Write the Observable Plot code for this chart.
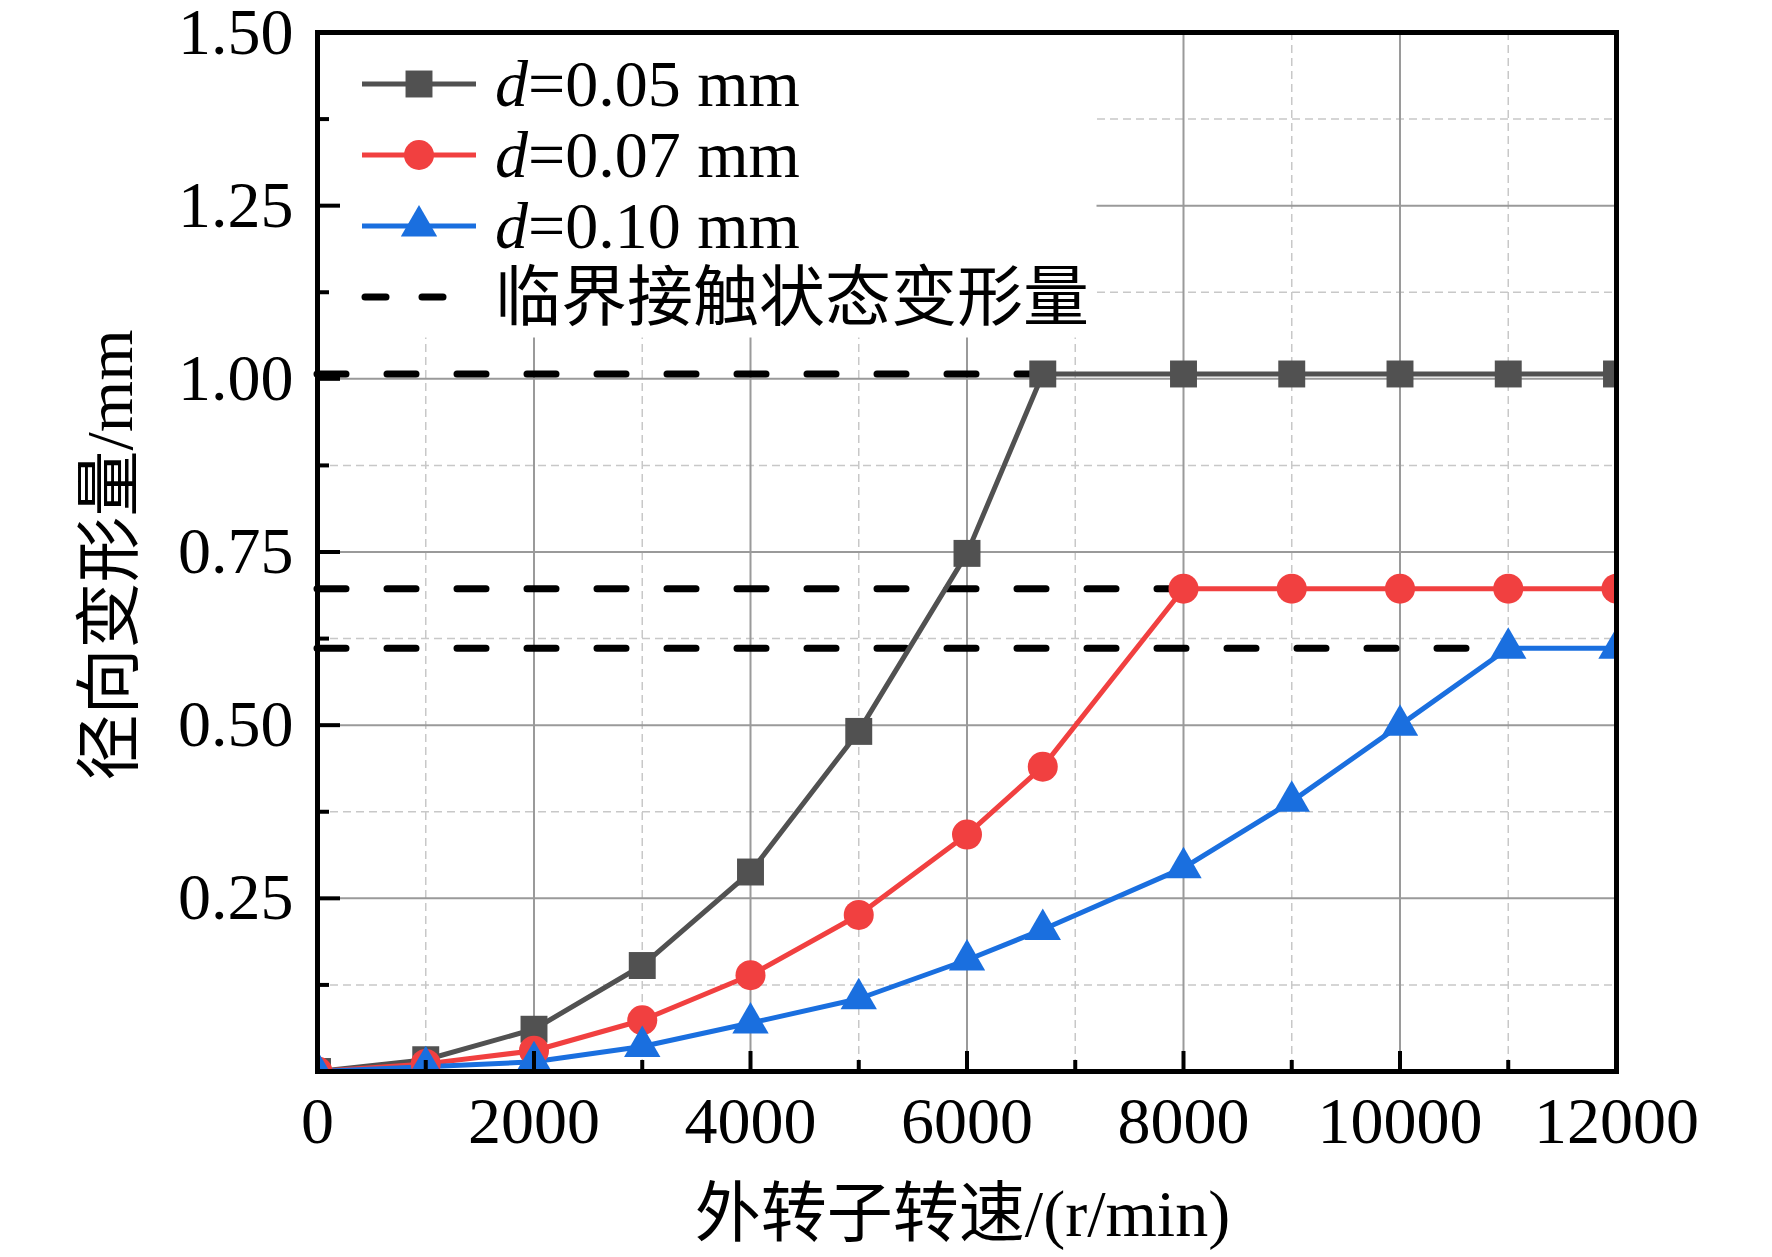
<!DOCTYPE html>
<html><head><meta charset="utf-8">
<script src="https://cdn.jsdelivr.net/npm/d3@7"></script>
<script src="https://cdn.jsdelivr.net/npm/@observablehq/plot@0.6"></script>
<style>
html,body{margin:0;padding:0;background:#fff;}
svg{display:block;}
</style>
</head><body><div id="chart"></div>
<script>
// ---- data ----
const speeds = [0, 1000, 2000, 3000, 4000, 5000, 6000, 6700, 8000, 9000, 10000, 11000, 12000];
const d005 = [0, 0.017, 0.061, 0.153, 0.288, 0.491, 0.748, 1.007, 1.007, 1.007, 1.007, 1.007, 1.007];
const d007 = [0, 0.011, 0.030, 0.074, 0.139, 0.226, 0.342, 0.440, 0.697, 0.697, 0.697, 0.697, 0.697];
const d010 = [0, 0.007, 0.014, 0.036, 0.070, 0.105, 0.161, 0.205, 0.294, 0.390, 0.500, 0.611, 0.611];
const seriesKeys = ["0.05", "0.07", "0.10"];
const seriesColors = ["#515151", "#F14040", "#1A6FDF"];
const seriesSymbols = ["square", "circle", "triangle"];
const critValues = [1.007, 0.697, 0.611];
const critEnds = [6700, 8000, 11000];
const critLabel = "临界接触状态变形量";
const xTicks = [0, 2000, 4000, 6000, 8000, 10000, 12000];
const xMinor = [1000, 3000, 5000, 7000, 9000, 11000];
const yTicks = [0.25, 0.5, 0.75, 1.0, 1.25, 1.5];
const yMinor = [0.125, 0.375, 0.625, 0.875, 1.125, 1.375];
const xTitle = "外转子转速/(r/min)";
const yTitle = "径向变形量/mm";

// ---- build table ----
const seriesValues = [d005, d007, d010];
const rows = [];
seriesKeys.forEach((k, si) => speeds.forEach((s, i) => rows.push({speed: s, value: seriesValues[si][i], key: k})));
const crit = critValues.map((v, i) => ({y: v, x2: critEnds[i]}));

const W = 1772, H = 1257;
const mL = 317, mR = 156, mT = 32, mB = 186;
const pw = W - mL - mR, ph = H - mT - mB;
const FONT = "'Liberation Serif', 'Times New Roman', 'Noto Sans CJK SC', serif";
const colorOf = k => seriesColors[seriesKeys.indexOf(k)];
const symR = [15.2, 15, 13.5];

const marks = [
  Plot.gridX(xMinor, {stroke: "#c8c8c8", strokeOpacity: 1, strokeWidth: 1.5, strokeDasharray: "8,5"}),
  Plot.gridY(yMinor, {stroke: "#c8c8c8", strokeOpacity: 1, strokeWidth: 1.5, strokeDasharray: "8,5"}),
  Plot.gridX(xTicks, {stroke: "#9a9a9a", strokeOpacity: 1, strokeWidth: 2}),
  Plot.gridY(yTicks, {stroke: "#9a9a9a", strokeOpacity: 1, strokeWidth: 2}),
  // legend background
  Plot.frame({fill: "white", stroke: null, insetRight: 520, insetBottom: 734}),
  Plot.ruleY(crit, {y: "y", x1: 0, x2: "x2", stroke: "black", strokeWidth: 7, strokeDasharray: "29,41", strokeLinecap: "round"}),
  Plot.line(rows, {x: "speed", y: "value", z: "key", stroke: d => colorOf(d.key), strokeWidth: 5, clip: true}),
];
seriesKeys.forEach((k, si) => {
  marks.push(Plot.dot(rows.filter(r => r.key === k), {
    x: "speed", y: "value", symbol: () => seriesSymbols[si],
    r: symR[si], fill: seriesColors[si], stroke: null, clip: true
  }));
});
marks.push(
  Plot.ruleX(xTicks, {stroke: "black", strokeWidth: 4, insetTop: ph - 20}),
  Plot.ruleX(xMinor, {stroke: "black", strokeWidth: 4, insetTop: ph - 11}),
  Plot.ruleY(yTicks, {stroke: "black", strokeWidth: 4, insetRight: pw - 23}),
  Plot.ruleY(yMinor, {stroke: "black", strokeWidth: 4, insetRight: pw - 12}),
  Plot.frame({stroke: "black", strokeWidth: 5}),
  Plot.axisX({ticks: xTicks, tickSize: 0, tickPadding: 25, tickFormat: d => String(d), fontSize: 66, fontFamily: FONT, label: null}),
  Plot.axisY({ticks: yTicks, tickSize: 0, tickPadding: 24, tickFormat: d3.format(".2f"), fontSize: 66, fontFamily: FONT, label: null})
);

const chart = Plot.plot({
  width: W, height: H,
  marginLeft: mL, marginRight: mR, marginTop: mT, marginBottom: mB,
  x: {domain: [0, 12000]},
  y: {domain: [0, 1.5]},
  style: {fontFamily: FONT, fontSize: "66px", background: "white", overflow: "visible"},
  marks
});
document.getElementById("chart").appendChild(chart);

// ---- titles and legend ----
const svg = d3.select(chart);
svg.append("text").attr("x", mL + pw / 2 - 4).attr("y", 1236)
  .attr("text-anchor", "middle").attr("font-family", FONT).attr("font-size", 66).attr("fill", "black")
  .text(xTitle);
svg.append("text").attr("transform", `translate(109,555) rotate(-90)`).attr("dy", "0.35em")
  .attr("text-anchor", "middle").attr("font-family", FONT).attr("font-size", 66).attr("fill", "black")
  .text(yTitle);

const lg = svg.append("g").attr("text-anchor", "start");
const rowY = [84, 155, 226, 297];
seriesKeys.forEach((k, i) => {
  const y = rowY[i];
  lg.append("line").attr("x1", 362).attr("x2", 476).attr("y1", y).attr("y2", y)
    .attr("stroke", seriesColors[i]).attr("stroke-width", 5);
  const sym = seriesSymbols[i] === "square" ? d3.symbolSquare : seriesSymbols[i] === "circle" ? d3.symbolCircle : d3.symbolTriangle;
  const r = symR[i];
  lg.append("path").attr("transform", `translate(419,${y})`)
    .attr("d", d3.symbol(sym, Math.PI * r * r)()).attr("fill", seriesColors[i]);
  const t = lg.append("text").attr("x", 495).attr("y", y + 22).attr("text-anchor", "start")
    .attr("font-family", FONT).attr("font-size", 66).attr("fill", "black");
  t.append("tspan").attr("font-style", "italic").text("d");
  t.append("tspan").text("=" + k + " mm");
});
const yc = rowY[3];
[[365, 386], [422, 443]].forEach(([a, b]) => {
  lg.append("line").attr("x1", a).attr("x2", b).attr("y1", yc).attr("y2", yc)
    .attr("stroke", "black").attr("stroke-width", 7).attr("stroke-linecap", "round");
});
lg.append("text").attr("x", 495).attr("y", 320).attr("text-anchor", "start")
  .attr("font-family", FONT).attr("font-size", 66).attr("fill", "black").text(critLabel);
</script>
</body></html>
